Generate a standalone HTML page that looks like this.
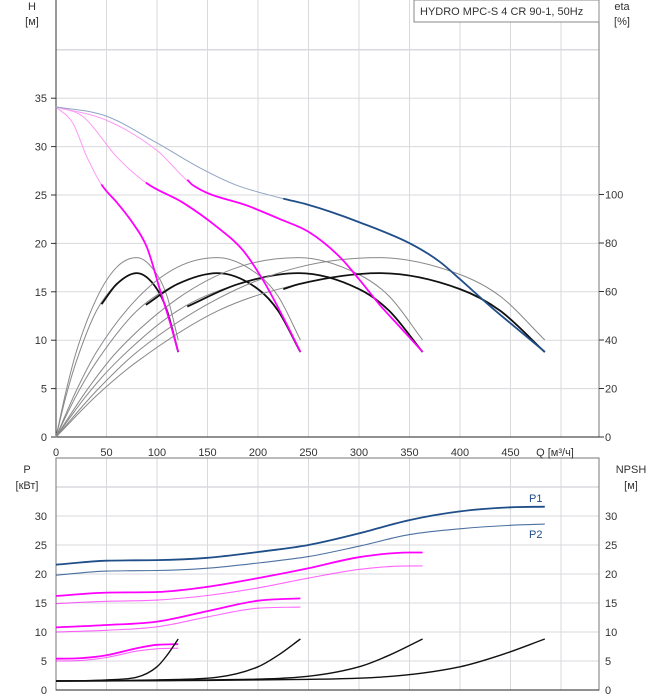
<!DOCTYPE html>
<html><head><meta charset="utf-8">
<style>
body{margin:0;background:#fff;}
svg{display:block;font-family:"Liberation Sans",sans-serif;}
</style></head>
<body>
<svg id="c" width="658" height="700"></svg>
<script>
// ---- data ----
const qTicks=[0,50,100,150,200,250,300,350,400,450];
const hTicks=[0,5,10,15,20,25,30,35];
const etaTicks=[0,20,40,60,80,100];
const pTicks=[0,5,10,15,20,25,30];
// pump curves H(Q), for 1..4 pumps
const hQ1=[0,16.8,30.7,45.5,60.4,76,90,103,113,121];
const hH1=[34.1,32.4,28.9,26.0,24.2,22.1,19.6,15.2,11.8,8.8];
const hQ2=[0,26.7,60.4,90,125.7,159.4,185,205,224.8,242];
const hH2=[34.1,33.1,28.9,26.2,24.2,21.7,19.3,16.2,12.4,8.8];
const hQ3=[0,50.5,100,135.6,192,222,250,281,300,321,342,363];
const hH3=[34.1,32.7,29.6,26.0,23.8,22.5,21.2,18.6,16.3,13.6,11.2,8.8];
const hQ4=[0,48.5,98,142.6,179,222,249.5,271,300,350.5,380,400,430,450.5,484];
const hH4=[34.1,33.2,30.5,27.8,26.0,24.7,24.0,23.3,22.2,20.0,18.1,16.3,13.5,11.7,8.8];
const boldFrom=[45,89,130,225];
// efficiency of one pump (scaled by pump count)
const etaQ=[0,10,20,40,60,80,100,110,121];
const etaPump=[0,19,35,57,70,74,67,58,40];
const etaTotal=[0,17,31,52,63,67.6,61,52,35];
// power curves
const pQ1=[0,25,50,80,100,121];
const p1_1=[5.4,5.5,6.0,7.2,7.8,7.9];
const p2_1=[5.0,5.1,5.6,6.7,7.1,7.2];
const pQ2=[0,50,100,150,200,242];
const p1_2=[10.8,11.2,11.8,13.6,15.4,15.8];
const p2_2=[10.0,10.3,10.9,12.6,14.1,14.3];
const pQ3=[0,50,100,150,200,250,300,350,363];
const p1_3=[16.2,16.8,16.9,17.8,19.3,21.0,22.9,23.7,23.7];
const p2_3=[14.9,15.3,15.5,16.3,17.6,19.3,20.8,21.4,21.4];
const pQ4=[0,50,100,150,200,250,300,350,400,450,484];
const p1_4=[21.6,22.3,22.4,22.8,23.8,25.0,27.0,29.3,30.8,31.5,31.6];
const p2_4=[19.8,20.5,20.6,21.0,21.9,23.0,24.8,26.8,27.8,28.4,28.6];
// NPSH of one pump (scaled by pump count)
const npQ=[0,25,50,80,100,110,121];
const npV=[1.55,1.6,1.75,2.2,4.0,6.0,8.8];

// ---- scales ----
const X0=56,X1=599;
const x=q=>X0+q*1.01;
const yH=h=>437-h*9.68;
const yE=e=>437-e*2.425;
const yP=p=>690-p*5.8;
const NS="http://www.w3.org/2000/svg";
const svg=document.getElementById('c');
function el(t,a,parent){const e=document.createElementNS(NS,t);for(const k in a)e.setAttribute(k,a[k]);(parent||svg).appendChild(e);return e;}
function txt(s,xx,yy,anchor,size){const t=el('text',{x:xx,y:yy,'text-anchor':anchor||'start','font-size':size||11,fill:'#333'});t.textContent=s;return t;}
function path(p){ // monotone cubic in x
 const n=p.length;if(n<2)return '';
 const d=[],m=[];
 for(let i=0;i<n-1;i++)d.push((p[i+1][1]-p[i][1])/(p[i+1][0]-p[i][0]||1e-6));
 m[0]=d[0];m[n-1]=d[n-2];
 for(let i=1;i<n-1;i++){m[i]=(d[i-1]*d[i]<=0)?0:(d[i-1]+d[i])/2;}
 for(let i=0;i<n-1;i++){if(d[i]===0){m[i]=0;m[i+1]=0;continue;}const a=m[i]/d[i],b=m[i+1]/d[i],s=a*a+b*b;if(s>9){const t=3/Math.sqrt(s);m[i]=t*a*d[i];m[i+1]=t*b*d[i];}}
 let s='M'+p[0][0].toFixed(1)+','+p[0][1].toFixed(1);
 for(let i=0;i<n-1;i++){const h=(p[i+1][0]-p[i][0])/3;
  s+=`C${(p[i][0]+h).toFixed(1)},${(p[i][1]+m[i]*h).toFixed(1)} ${(p[i+1][0]-h).toFixed(1)},${(p[i+1][1]-m[i+1]*h).toFixed(1)} ${p[i+1][0].toFixed(1)},${p[i+1][1].toFixed(1)}`;}
 return s;}
function pts(qs,vs,ys,mult,from){const r=[];const k=mult||1;
 if(from!=null){for(let i=0;i<qs.length-1;i++){const a=qs[i]*k,b=qs[i+1]*k;if(a<from&&b>from){const t=(from-a)/(b-a);r.push([x(from),ys(vs[i]+t*(vs[i+1]-vs[i]))]);}}}
 qs.forEach((q,i)=>{const qq=q*k;if(from==null||qq>=from-0.01)r.push([x(qq),ys(vs[i])]);});
 return r;}
function line(p,stroke,w,name,op){const e=el('path',{d:path(p),fill:'none',stroke:stroke,'stroke-width':w,opacity:op||1});return e;}

// ---- grids ----
const g=el('g',{});
qTicks.concat([500]).forEach(q=>{if(q>0){el('line',{x1:x(q),x2:x(q),y1:0,y2:437,stroke:'#d8dadd'},g);el('line',{x1:x(q),x2:x(q),y1:458,y2:690,stroke:'#d8dadd'},g);}});
hTicks.concat([40]).forEach(h=>{if(h>0)el('line',{x1:X0,x2:X1,y1:yH(h),y2:yH(h),stroke:'#d8dadd','stroke-width':h==40?1.5:1},g);});
pTicks.concat([35]).forEach(p=>{if(p>0)el('line',{x1:X0,x2:X1,y1:yP(p),y2:yP(p),stroke:'#d8dadd','stroke-width':p==35?1.5:1},g);});
// axes
el('line',{x1:X0,x2:X0,y1:0,y2:437,stroke:'#333'});el('line',{x1:X1,x2:X1,y1:0,y2:437,stroke:'#777'});
el('line',{x1:X0,x2:X1,y1:437,y2:437,stroke:'#222'});
el('rect',{x:X0,y:458,width:X1-X0,height:232,fill:'none',stroke:'#777'});
el('line',{x1:X0,x2:X1,y1:690,y2:690,stroke:'#222'});
// ticks labels
hTicks.forEach(h=>{txt(String(h),47,yH(h)+4,'end');el('line',{x1:51,x2:56,y1:yH(h),y2:yH(h),stroke:'#333'});});
etaTicks.forEach(e=>{txt(String(e),605,yE(e)+4,'start');el('line',{x1:599,x2:604,y1:yE(e),y2:yE(e),stroke:'#333'});});
qTicks.forEach(q=>{txt(String(q),x(q),456,'middle');});
txt('Q [м³/ч]',555,456,'middle');
pTicks.forEach(p=>{txt(String(p),47,yP(p)+4,'end');txt(String(p),605,yP(p)+4,'start');});
txt('H',32,10,'middle');txt('[м]',32,25,'middle');
txt('eta',622,10,'middle');txt('[%]',622,25,'middle');
txt('P',27,473,'middle');txt('[кВт]',27,489,'middle');
txt('NPSH',631,473,'middle');txt('[м]',631,489,'middle');
// title box
const tb=el('rect',{x:414,y:0,width:185,height:22,fill:'#fff',stroke:'#888'});
const tt=txt('HYDRO MPC-S 4 CR 90-1, 50Hz',420,15,'start',11);

// ---- efficiency curves ----
for(let n=1;n<=4;n++){
 line(pts(etaQ,etaPump,yE,n),'#888',1,'eta-pump-'+n);
 line(pts(etaQ,etaTotal,yE,n),'#888',1,'eta-total-thin-'+n);
 line(pts(etaQ,etaTotal,yE,n,boldFrom[n-1]),'#111',1.8,'eta-total-'+n);
}
// ---- H curves ----
const HQ=[hQ1,hQ2,hQ3,hQ4],HH=[hH1,hH2,hH3,hH4];
for(let n=1;n<=4;n++){
 const c=n==4?'#1f4e89':'#ff00ff';const lc=n==4?'#8fa5c4':'#ff99f5';
 line(pts(HQ[n-1],HH[n-1],yH),lc,1,'h-curve-thin-'+n);
 line(pts(HQ[n-1],HH[n-1],yH,1,boldFrom[n-1]),c,1.8,'h-curve-'+n);
}
// ---- power curves ----
const PQ=[pQ1,pQ2,pQ3,pQ4],P1=[p1_1,p1_2,p1_3,p1_4],P2=[p2_1,p2_2,p2_3,p2_4];
for(let n=1;n<=4;n++){
 const c=n==4?'#1f4e89':'#ff00ff';
 line(pts(PQ[n-1],P1[n-1],yP),c,1.8,'p1-curve-'+n);
 line(pts(PQ[n-1],P2[n-1],yP),c,1.1,'p2-curve-'+n,n==4?0.8:0.6);
}
const l1=txt('P1',529,502,'start',11);l1.setAttribute('fill','#1f4e89');
const l2=txt('P2',529,538,'start',11);l2.setAttribute('fill','#1f4e89');
// ---- NPSH ----
for(let n=1;n<=4;n++) line(pts(npQ,npV,yP,n),'#111',1.4,'npsh-curve-'+n);
</script>
</body></html>
